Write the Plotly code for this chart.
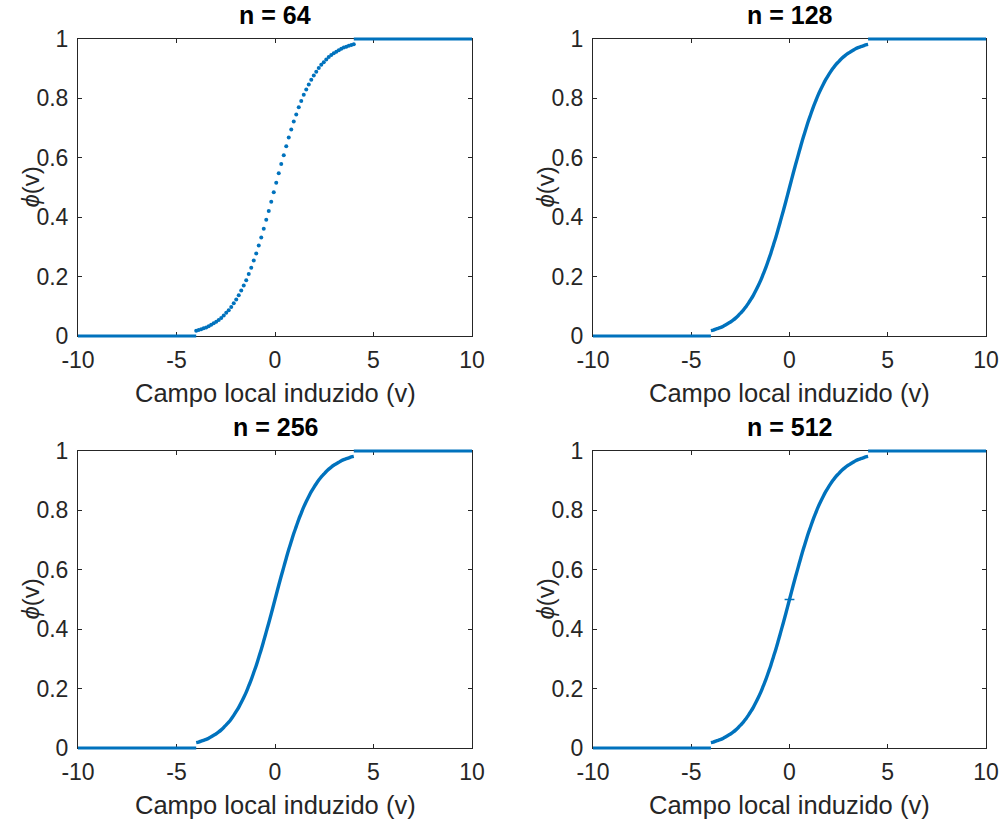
import plotly.graph_objects as go

# ---- data ----
titles = ["n = 64", "n = 128", "n = 256", "n = 512"]
x_ticks = [-10, -5, 0, 5, 10]
y_ticks = [0, 0.2, 0.4, 0.6, 0.8, 1]

flat_lo_x = [-10, -4]
flat_lo_y = [0, 0]
flat_hi_x = [4, 10]
flat_hi_y = [1, 1]

curve_x = [-4.000, -3.873, -3.746, -3.619, -3.492, -3.365, -3.238, -3.111,
           -2.984, -2.857, -2.730, -2.603, -2.476, -2.349, -2.222, -2.095,
           -1.968, -1.841, -1.714, -1.587, -1.460, -1.333, -1.206, -1.079,
           -0.952, -0.825, -0.698, -0.571, -0.444, -0.317, -0.190, -0.063,
           0.063, 0.190, 0.317, 0.444, 0.571, 0.698, 0.825, 0.952,
           1.079, 1.206, 1.333, 1.460, 1.587, 1.714, 1.841, 1.968,
           2.095, 2.222, 2.349, 2.476, 2.603, 2.730, 2.857, 2.984,
           3.111, 3.238, 3.365, 3.492, 3.619, 3.746, 3.873, 4.000]
curve_y = [0.018, 0.020, 0.023, 0.026, 0.029, 0.033, 0.038, 0.043,
           0.048, 0.054, 0.061, 0.069, 0.078, 0.087, 0.098, 0.110,
           0.123, 0.137, 0.153, 0.170, 0.188, 0.209, 0.230, 0.254,
           0.278, 0.305, 0.332, 0.361, 0.391, 0.421, 0.452, 0.484,
           0.516, 0.548, 0.579, 0.609, 0.639, 0.668, 0.695, 0.722,
           0.746, 0.770, 0.791, 0.812, 0.830, 0.847, 0.863, 0.877,
           0.890, 0.902, 0.913, 0.922, 0.931, 0.939, 0.946, 0.952,
           0.957, 0.962, 0.967, 0.971, 0.974, 0.977, 0.980, 0.982]

# stray point visible in the n = 512 panel
mid_x = [0]
mid_y = [0.5]

# ---- style ----
BLUE = "#0072BD"
INK = "#262626"
FONT = "Liberation Sans, Arial, sans-serif"
W, H = 1003, 826
PAD = 5  # px of un-clipped room around each plot area for the data layer

x_px = [[78, 472], [593, 986]]
y_px = [[39, 336], [451, 748]]  # top, bottom in screen px

fig = go.Figure()
layout = dict(
    template="none",
    width=W, height=H, margin=dict(l=0, r=0, t=0, b=0, pad=0),
    paper_bgcolor="white", plot_bgcolor="rgba(0,0,0,0)", showlegend=False,
    font=dict(family=FONT, color=INK),
)
annotations = []

XR = [-10, 10]
YR = [0, 1]

for i, title in enumerate(titles):
    r, c = divmod(i, 2)
    x0, x1 = x_px[c]
    yt, yb = y_px[r]
    xdom = [x0 / W, x1 / W]
    ydom = [(H - yb) / H, (H - yt) / H]

    fa = str(2 * i + 1)
    da = str(2 * i + 2)
    if fa == "1":
        fxa, fya, fxk, fyk = "x", "y", "xaxis", "yaxis"
    else:
        fxa, fya, fxk, fyk = "x" + fa, "y" + fa, "xaxis" + fa, "yaxis" + fa
    dxa, dya = "x" + da, "y" + da

    # data axes: same scale, a little larger so thick lines at 0/1 are not clipped
    ux = (XR[1] - XR[0]) / (x1 - x0)
    uy = (YR[1] - YR[0]) / (yb - yt)
    dxdom = [(x0 - PAD) / W, (x1 + PAD) / W]
    dydom = [(H - yb - PAD) / H, (H - yt + PAD) / H]
    dxr = [XR[0] - PAD * ux, XR[1] + PAD * ux]
    dyr = [YR[0] - PAD * uy, YR[1] + PAD * uy]

    # empty trace so the frame subplot exists
    fig.add_trace(go.Scatter(x=[], y=[], mode="markers", xaxis=fxa, yaxis=fya,
                             hoverinfo="skip"))

    for fx, fy in ((flat_lo_x, flat_lo_y), (flat_hi_x, flat_hi_y)):
        fig.add_trace(go.Scatter(x=fx, y=fy, mode="lines", xaxis=dxa, yaxis=dya,
                                 line=dict(color=BLUE, width=3.2), hoverinfo="skip"))
    if i == 0:
        fig.add_trace(go.Scatter(x=curve_x, y=curve_y, mode="markers", xaxis=dxa, yaxis=dya,
                                 marker=dict(color=BLUE, size=4, line=dict(width=0))))
    else:
        fig.add_trace(go.Scatter(x=curve_x, y=curve_y, mode="lines", xaxis=dxa, yaxis=dya,
                                 line=dict(color=BLUE, width=3.4, shape="spline")))
    if i == 3:
        fig.add_trace(go.Scatter(x=mid_x, y=mid_y, mode="markers", xaxis=dxa, yaxis=dya,
                                 marker=dict(color=BLUE, size=7, symbol="line-ew-open",
                                             line=dict(color=BLUE, width=1.5))))

    common = dict(showline=True, linecolor=INK, linewidth=1, mirror="ticks",
                  ticks="inside", ticklen=4, tickcolor=INK, tickwidth=1,
                  showgrid=False, zeroline=False, automargin=False, fixedrange=True,
                  tickfont=dict(family=FONT, size=23, color=INK))
    layout[fxk] = dict(common, domain=xdom, range=XR,
                       tickvals=x_ticks, ticktext=[str(v) for v in x_ticks],
                       anchor=fya, ticklabelstandoff=3)
    layout[fyk] = dict(common, domain=ydom, range=YR,
                       tickvals=y_ticks, ticktext=[f"{v:g}" for v in y_ticks],
                       anchor=fxa, ticklabelstandoff=4)
    hidden = dict(showline=False, showticklabels=False, ticks="", showgrid=False,
                  zeroline=False, automargin=False, fixedrange=True)
    layout["xaxis" + da] = dict(hidden, domain=dxdom, range=dxr, anchor=dya)
    layout["yaxis" + da] = dict(hidden, domain=dydom, range=dyr, anchor=dxa)

    xc = (xdom[0] + xdom[1]) / 2
    annotations.append(dict(text="<b>" + title + "</b>", x=xc, y=(H - yt + 24) / H,
                            xref="paper", yref="paper", showarrow=False,
                            xanchor="center", yanchor="middle",
                            font=dict(family=FONT, size=25, color="black")))
    annotations.append(dict(text="Campo local induzido (v)", x=xc, y=(H - yb - 57) / H,
                            xref="paper", yref="paper", showarrow=False,
                            xanchor="center", yanchor="middle",
                            font=dict(family=FONT, size=25.5, color=INK)))
    annotations.append(dict(text="<i>ϕ</i>(v)", x=(x0 - 48) / W,
                            y=(ydom[0] + ydom[1]) / 2,
                            xref="paper", yref="paper", showarrow=False, textangle=-90,
                            xanchor="center", yanchor="middle",
                            font=dict(family=FONT, size=24, color=INK)))

layout["annotations"] = annotations
fig.update_layout(**layout)
fig.write_html("out.html")
